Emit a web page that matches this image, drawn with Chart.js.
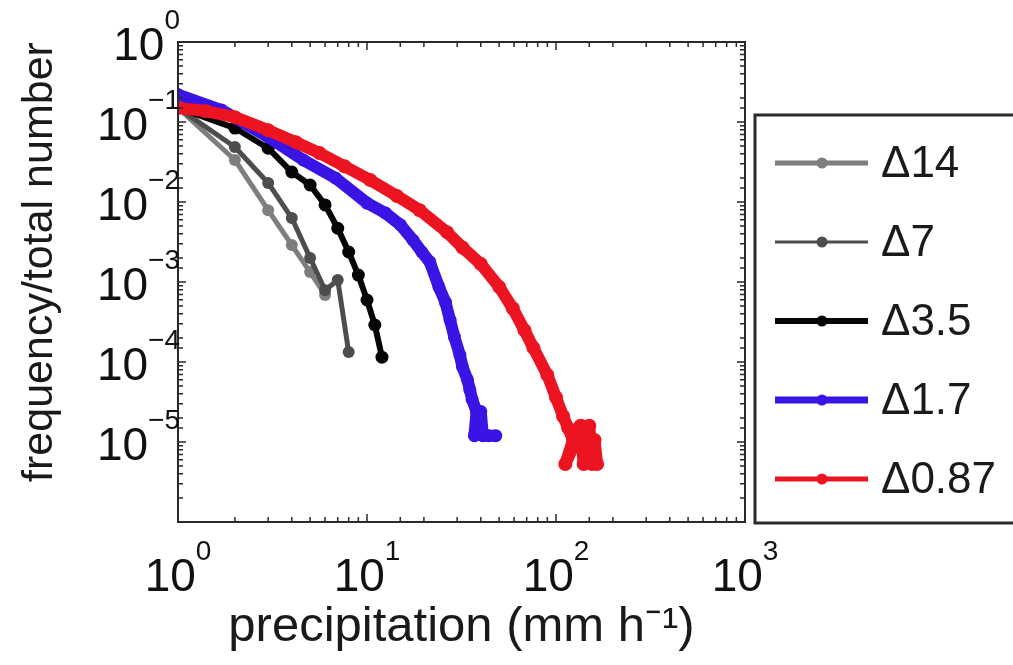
<!DOCTYPE html>
<html>
<head>
<meta charset="utf-8">
<script src="https://cdn.jsdelivr.net/npm/chart.js@4.4.1/dist/chart.umd.min.js"></script>
<style>
  html, body { margin: 0; padding: 0; background: #fff; }
  #wrap { width: 1013px; height: 665px; }
</style>
</head>
<body>
<div id="wrap"><canvas id="grafico" width="1013" height="665"></canvas></div>
<script>
// Dados (precipitação em mm/h, frequência relativa)
const rotulos = ["Δ14", "Δ7", "Δ3.5", "Δ1.7", "Δ0.87"];
const cores = ["#7e7e7e", "#4d4d4d", "#060606", "#3a14e4", "#ec1420"];

const precipD14 = [1, 2, 3, 4, 5, 6];
const freqD14 = [0.15, 0.0335, 0.0079, 0.0029, 0.00133, 0.00069];

const precipD7 = [1, 2, 3, 4, 5, 6, 7, 8];
const freqD7 = [0.15, 0.0487, 0.0173, 0.0063, 0.002, 0.00079, 0.00106, 0.000133];

const precipD35 = [1, 2, 3, 4, 5, 6, 7, 8, 9, 10, 11, 12];
const freqD35 = [0.15, 0.084, 0.047, 0.0237, 0.0163, 0.0092, 0.0047, 0.00237, 0.00122, 0.000596, 0.00029, 0.000115];

const precipD17 = [1, 1.7, 3, 4.6, 6.8, 10, 12.5, 15, 17.5, 19.5, 21.5, 24, 26, 27.5, 29, 31, 32, 34, 35, 36, 38, 37, 40, 41, 44, 48];
const freqD17 = [0.22, 0.141, 0.065, 0.0335, 0.02, 0.0097, 0.0073, 0.0052, 0.00335, 0.00237, 0.00178, 0.00087, 0.00056, 0.000335, 0.000205, 0.000122, 8.7e-5, 6e-5, 4.5e-5, 3.4e-5, 2.4e-5, 1.2e-5, 2.4e-5, 1.2e-5, 1.2e-5, 1.2e-5];

const precipD087 = [1, 1.4, 2, 3, 4.2, 5.6, 7.6, 10.4, 14.4, 19, 26.5, 32, 40, 50, 59, 68, 76, 90, 100, 109, 116, 123, 112, 128, 135, 140, 145, 150, 155, 160, 165];
const freqD087 = [0.15, 0.137, 0.115, 0.079, 0.056, 0.041, 0.028, 0.0188, 0.0119, 0.0079, 0.0042, 0.0027, 0.00168, 0.00087, 0.00047, 0.00025, 0.00015, 6.9e-5, 3.6e-5, 2.1e-5, 1.5e-5, 1.06e-5, 5.3e-6, 1.06e-5, 1.6e-5, 5.3e-6, 1.06e-5, 1.6e-5, 5.3e-6, 1.06e-5, 5.3e-6];

// Expoentes dos rótulos dos eixos (10^n)
const expoentesX = [0, 1, 2, 3];
const expoentesY = [0, -1, -2, -3, -4, -5];

const tituloX = "precipitation (mm h\u207B\u00B9)";
const tituloY = "frequency/total number";

const series = [
  [precipD14, freqD14],
  [precipD7, freqD7],
  [precipD35, freqD35],
  [precipD17, freqD17],
  [precipD087, freqD087],
];

const FONTE = '"Liberation Sans", Arial, Helvetica, sans-serif';
const larguraLinha = [5, 5, 6, 12, 12];
const raioPonto = [6, 6, 6.5, 6.5, 7];
const larguraLegenda = [5, 3, 6, 7, 5];

function montarDatasets() {
  return series.map(([xs, ys], i) => ({
    label: rotulos[i],
    data: xs.map((x, k) => ({ x: x, y: ys[k] })),
    borderColor: cores[i],
    backgroundColor: cores[i],
    pointBackgroundColor: cores[i],
    pointBorderWidth: 0,
    pointRadius: raioPonto[i],
    borderWidth: larguraLinha[i],
    borderJoinStyle: "round",
    borderCapStyle: "round",
    tension: 0,
    order: series.length - i,
  }));
}

// Rótulo 10 com expoente sobrescrito
function rotuloPotencia(ctx, exp, x, yBase, alinhar) {
  const txtExp = exp < 0 ? "\u2212" + Math.abs(exp) : String(exp);
  ctx.font = "46px " + FONTE;
  const w10 = ctx.measureText("10").width;
  ctx.font = "28px " + FONTE;
  const wExp = ctx.measureText(txtExp).width;
  const total = w10 + wExp;
  const x0 = alinhar === "centro" ? x - total / 2 : x - total;
  ctx.fillStyle = "#111";
  ctx.textAlign = "left";
  ctx.textBaseline = "alphabetic";
  ctx.font = "46px " + FONTE;
  ctx.fillText("10", x0, yBase);
  ctx.font = "28px " + FONTE;
  ctx.fillText(txtExp, x0 + w10, yBase - 31);
}

const molduraPlugin = {
  id: "moldura",
  afterDraw(chart) {
    const { ctx, chartArea: a, scales } = chart;
    ctx.save();

    // caixa dos eixos
    ctx.strokeStyle = "#2a2a2a";
    ctx.lineWidth = 2;
    ctx.strokeRect(a.left, a.top, a.right - a.left, a.bottom - a.top);

    // marcas internas (estilo matlab)
    ctx.lineWidth = 1.5;
    scales.x.ticks.forEach((t) => {
      const px = scales.x.getPixelForValue(t.value);
      const len = t.major ? 8 : 5;
      ctx.beginPath();
      ctx.moveTo(px, a.bottom);
      ctx.lineTo(px, a.bottom - len);
      ctx.moveTo(px, a.top);
      ctx.lineTo(px, a.top + len);
      ctx.stroke();
    });
    scales.y.ticks.forEach((t) => {
      const py = scales.y.getPixelForValue(t.value);
      const len = t.major ? 8 : 5;
      ctx.beginPath();
      ctx.moveTo(a.left, py);
      ctx.lineTo(a.left + len, py);
      ctx.moveTo(a.right, py);
      ctx.lineTo(a.right - len, py);
      ctx.stroke();
    });

    // rótulos dos eixos
    expoentesX.forEach((e) => {
      const px = scales.x.getPixelForValue(Math.pow(10, e));
      rotuloPotencia(ctx, e, px, a.bottom + 69, "centro");
    });
    expoentesY.forEach((e) => {
      const py = scales.y.getPixelForValue(Math.pow(10, e));
      rotuloPotencia(ctx, e, a.left + 2, py + 18, "direita");
    });

    // títulos dos eixos
    ctx.fillStyle = "#1a1a1a";
    ctx.textAlign = "center";
    ctx.textBaseline = "middle";
    ctx.font = "49px " + FONTE;
    ctx.fillText(tituloX, (a.left + a.right) / 2, 627);
    ctx.save();
    ctx.translate(40, 262);
    ctx.rotate(-Math.PI / 2);
    ctx.font = "43px " + FONTE;
    ctx.fillText(tituloY, 0, 0);
    ctx.restore();

    // legenda
    const lx = a.right + 10;
    const ly = 115;
    ctx.strokeStyle = "#2a2a2a";
    ctx.lineWidth = 3;
    ctx.strokeRect(lx, ly, 300, a.bottom - ly + 1);
    chart.data.datasets.forEach((ds, i) => {
      const y = ly + 48 + i * 79;
      ctx.strokeStyle = ds.borderColor;
      ctx.lineWidth = larguraLegenda[i];
      ctx.beginPath();
      ctx.moveTo(lx + 20, y);
      ctx.lineTo(lx + 113, y);
      ctx.stroke();
      ctx.fillStyle = ds.borderColor;
      ctx.beginPath();
      ctx.arc(lx + 67, y, 5.5, 0, Math.PI * 2);
      ctx.fill();
      ctx.fillStyle = "#1a1a1a";
      ctx.font = "44px " + FONTE;
      ctx.textAlign = "left";
      ctx.textBaseline = "middle";
      ctx.fillText(ds.label, lx + 126, y + 2);
    });

    ctx.restore();
  },
};

function configurarGrafico() {
  new Chart(document.getElementById("grafico").getContext("2d"), {
    type: "line",
    data: { datasets: montarDatasets() },
    options: {
      responsive: false,
      animation: false,
      devicePixelRatio: 1,
      layout: { padding: { left: 0, right: 268, top: 42, bottom: 0 } },
      plugins: {
        legend: { display: false },
        tooltip: { enabled: false },
      },
      scales: {
        x: {
          type: "logarithmic",
          min: 1,
          max: 1000,
          grid: { display: false },
          border: { display: false },
          ticks: { display: false },
          afterFit: (scale) => { scale.height = 143; },
        },
        y: {
          type: "logarithmic",
          min: 1e-6,
          max: 1,
          grid: { display: false },
          border: { display: false },
          ticks: { display: false },
          afterFit: (scale) => { scale.width = 178; },
        },
      },
    },
    plugins: [molduraPlugin],
  });
}

document.addEventListener("DOMContentLoaded", configurarGrafico);
</script>
</body>
</html>
